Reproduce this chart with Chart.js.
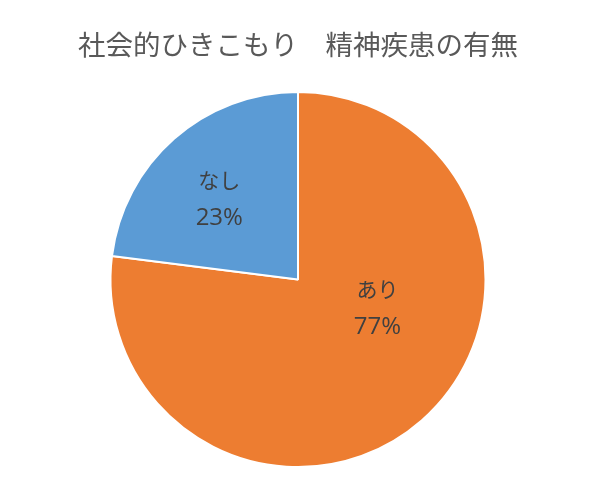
<!DOCTYPE html>
<html>
<head>
<meta charset="utf-8">
<script src="https://cdn.jsdelivr.net/npm/chart.js@4"></script>
<style>
  body { margin: 0; background: #fff; }
  #wrap { width: 600px; height: 488px; position: relative; }
</style>
</head>
<body>
<div id="wrap"><canvas id="myChart"></canvas></div>
<script>
const title = "社会的ひきこもり　精神疾患の有無";
const categories = ["あり", "なし"];
const values = [77, 23];
const colors = ["#ED7D31", "#5B9BD5"];

// label placement inside each slice (fraction of radius, angle shift in degrees)
const labelRadius = [0.45, 0.6];
const labelShift = [-29, -3];

const sliceLabels = {
  id: "sliceLabels",
  afterDatasetsDraw(chart) {
    let ctx = chart.ctx;
    let meta = chart.getDatasetMeta(0);
    let total = values.reduce((a, b) => a + b, 0);
    ctx.save();
    ctx.fillStyle = "#404040";
    ctx.textAlign = "center";
    ctx.textBaseline = "middle";
    meta.data.forEach((arc, i) => {
      let mid = (arc.startAngle + arc.endAngle) / 2 + labelShift[i] * Math.PI / 180;
      let r = arc.outerRadius * labelRadius[i];
      let x = arc.x + Math.cos(mid) * r;
      let y = arc.y + Math.sin(mid) * r;
      let pct = Math.round(values[i] / total * 100) + "%";
      ctx.font = "21px 'Noto Sans CJK JP', sans-serif";
      ctx.fillText(categories[i], x, y - 19);
      ctx.font = "24px 'Open Sans', sans-serif";
      ctx.fillText(pct, x, y + 19);
    });
    ctx.restore();
  },
};

new Chart("myChart", {
  type: "pie",
  data: {
    labels: categories,
    datasets: [
      {
        data: values,
        backgroundColor: colors,
        borderColor: "#ffffff",
        borderWidth: 2,
      },
    ],
  },
  options: {
    responsive: true,
    maintainAspectRatio: false,
    animation: false,
    layout: { padding: { top: 0, bottom: 20, left: 0, right: 4 } },
    plugins: {
      legend: { display: false },
      tooltip: { enabled: false },
      title: {
        display: true,
        text: title,
        color: "#595959",
        font: { family: "'Noto Sans CJK JP', sans-serif", size: 27.5, weight: "normal" },
        padding: { top: 28, bottom: 30 },
      },
    },
  },
  plugins: [sliceLabels],
});
</script>
</body>
</html>
